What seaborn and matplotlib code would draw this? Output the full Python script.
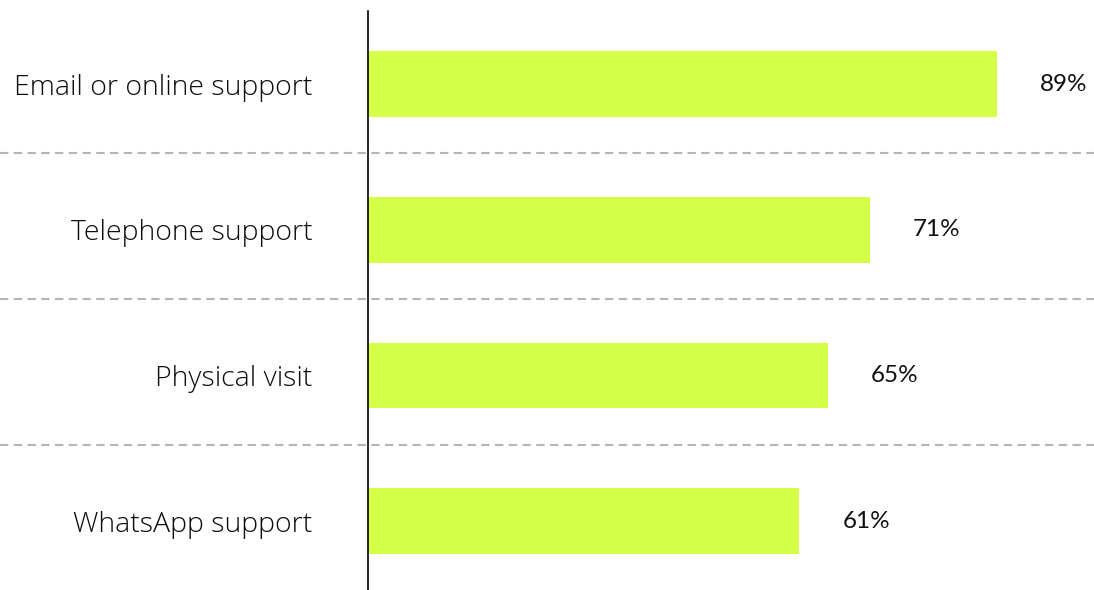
import matplotlib
matplotlib.use("Agg")
import matplotlib.pyplot as plt
import seaborn as sns
import pandas as pd

categories = ["Email or online support", "Telephone support", "Physical visit", "WhatsApp support"]
values = [89, 71, 65, 61]
value_labels = ["89%", "71%", "65%", "61%"]

df = pd.DataFrame({"channel": categories, "pct": values})

sns.set_theme(style="white")
plt.rcParams['font.family'] = ['Lato', 'DejaVu Sans']

fig = plt.figure(figsize=(10.94, 5.90), dpi=100)
W, H = 1094, 590
x0 = 368
ax = fig.add_axes([x0 / W, -4 / H, (W - x0) / W, 582.8 / H])

sns.barplot(data=df, y="channel", x="pct", orient="h", color="#d4ff47",
            width=0.45, saturation=1, ax=ax, edgecolor="none")

xmax = (W - x0) / 7.07
ax.set_xlim(0, xmax)
ax.set_ylim(len(categories) - 0.5, -0.5)

for s in ["top", "right", "bottom"]:
    ax.spines[s].set_visible(False)
ax.spines["left"].set_color("black")
ax.spines["left"].set_linewidth(1.2)

ax.set_xticks([])
ax.set_xlabel("")
ax.set_ylabel("")
ax.tick_params(axis="y", length=0, pad=40)
for lbl in ax.get_yticklabels():
    lbl.set_fontsize(20.5)
    lbl.set_family(['Open Sans', 'DejaVu Sans'])
    lbl.set_fontweight("light")
    lbl.set_color("#0d0d0d")

for i in range(len(categories) - 1):
    ax.axhline(i + 0.475, xmin=-x0 / (W - x0), xmax=1, color="#b5b5b5",
               lw=1.5, linestyle=(0, (4, 2.6)), clip_on=False, zorder=0)

for i, (v, t) in enumerate(zip(values, value_labels)):
    ax.text(v + 43 / 7.07, i, t, va="center", ha="left", fontsize=17.5,
            fontweight="normal", color="#111111")

fig.savefig("out.png", dpi=100)
